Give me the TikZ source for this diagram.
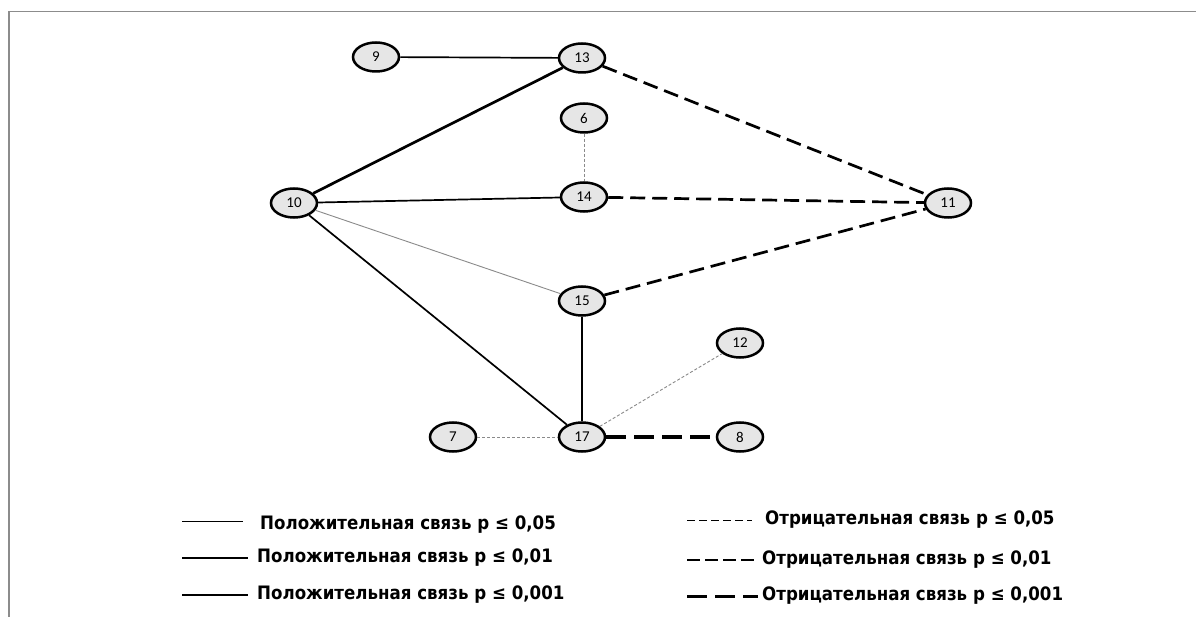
\documentclass[tikz,border=0pt]{standalone}
\usepackage{fontspec}
\setmainfont{DejaVu Sans}
\newfontfamily\nodefont{Carlito}
\newfontfamily\legfont{DejaVu Sans Condensed}
\usetikzlibrary{shapes.geometric}
\definecolor{nodefill}{HTML}{E6E6E6}
\definecolor{framegray}{HTML}{8C8C8C}
\definecolor{thingray}{HTML}{8A8A8A}
\tikzset{
  vtx/.style={ellipse, draw=black, line width=2.5pt, fill=nodefill, minimum width=46pt, minimum height=29pt, inner sep=0pt, font=\nodefont\fontsize{15}{15}\selectfont},
  posA/.style={draw=thingray, line width=0.9pt},
  posB/.style={draw=black, line width=1.7pt},
  posC/.style={draw=black, line width=2.7pt},
  negA/.style={draw=thingray, line width=0.9pt, dash pattern=on 3pt off 2pt},
  negB/.style={draw=black, line width=2.7pt, dash pattern=on 15pt off 7pt},
  negC/.style={draw=black, line width=3.6pt, dash pattern=on 20pt off 8pt},
  legtext/.style={anchor=west, inner sep=0pt, font=\legfont\bfseries\fontsize{18.5}{18.5}\selectfont},
}
\begin{document}
\begin{tikzpicture}[x=1pt,y=-1pt]
\useasboundingbox (0,0) rectangle (1196,617);
\fill[white] (0,0) rectangle (1196,617);
% frame
\draw[framegray, line width=1.4pt] (9,617) -- (9,11.5) -- (1196,11.5);
% nodes
\node[vtx] (n9)  at (376,57)  {9};
\node[vtx] (n13) at (582,58)  {13};
\node[vtx] (n6)  at (584,118) {6};
\node[vtx] (n10) at (294,203) {10};
\node[vtx] (n14) at (584,197) {14};
\node[vtx] (n11) at (948,203) {11};
\node[vtx] (n15) at (582,301) {15};
\node[vtx] (n12) at (740,343) {12};
\node[vtx] (n7)  at (453,437) {7};
\node[vtx] (n17) at (582,437) {17};
\node[vtx] (n8)  at (740,437) {8};
% edges
\draw[posB] (n9) -- (n13);
\draw[posC] (n10) -- (n13);
\draw[posB] (n10) -- (n14);
\draw[posA] (n10) -- (n15);
\draw[posB] (n10) -- (n17);
\draw[posB] (n15) -- (n17);
\draw[negA] (n6) -- (n14);
\draw[negB] (n13) -- (n11);
\draw[negB] (n14) -- (n11);
\draw[negB] (n15) -- (n11);
\draw[negA] (n17) -- (n12);
\draw[negA] (n7) -- (n17);
\draw[negC] (n17) -- (n8);
% legend
\coordinate (la1) at (182,521); \coordinate (lb1) at (243,521);
\coordinate (la2) at (182,558); \coordinate (lb2) at (248,558);
\coordinate (la3) at (182,595); \coordinate (lb3) at (248,595);
\draw[draw=black, line width=0.9pt] (la1) -- (lb1);
\draw[draw=black, line width=1.5pt] (la2) -- (lb2);
\draw[draw=black, line width=2.4pt] (la3) -- (lb3);
\node[legtext] (t1) at (260,525) {Положительная связь p ≤ 0,05};
\node[legtext] (t2) at (257,558) {Положительная связь p ≤ 0,01};
\node[legtext] (t3) at (257,595) {Положительная связь p ≤ 0,001};
\coordinate (ra1) at (687,520); \coordinate (rb1) at (752,520);
\coordinate (ra2) at (687,560); \coordinate (rb2) at (758,560);
\coordinate (ra3) at (687,596); \coordinate (rb3) at (758,596);
\draw[draw=black, line width=0.8pt, dash pattern=on 8pt off 4pt] (ra1) -- (rb1);
\draw[draw=black, line width=2pt, dash pattern=on 13pt off 5pt] (ra2) -- (rb2);
\draw[draw=black, line width=3pt, dash pattern=on 20pt off 8pt] (ra3) -- (rb3);
\node[legtext] (u1) at (765,520) {Отрицательная связь p ≤ 0,05};
\node[legtext] (u2) at (762,560) {Отрицательная связь p ≤ 0,01};
\node[legtext] (u3) at (762,596) {Отрицательная связь p ≤ 0,001};
\end{tikzpicture}
\end{document}
